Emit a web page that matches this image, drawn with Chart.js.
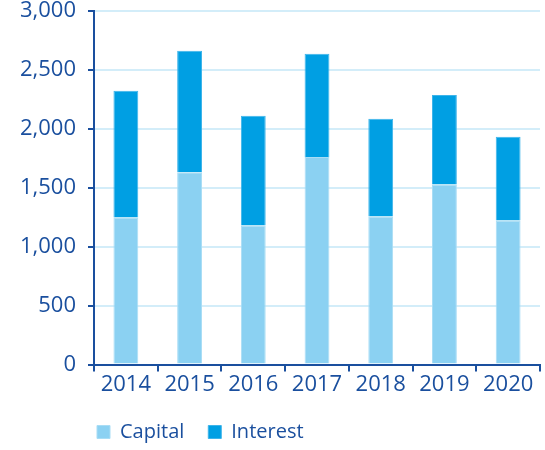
<!DOCTYPE html>
<html>
<head>
<meta charset="utf-8">
<script src="https://cdn.jsdelivr.net/npm/chart.js@4/dist/chart.umd.min.js"></script>
<style>
  html, body { margin: 0; padding: 0; background: #fff; }
  #wrap { width: 545px; height: 450px; position: relative; }
</style>
</head>
<body>
<div id="wrap"><canvas id="chart"></canvas></div>
<script>
// --- Data ---
const years = ['2014', '2015', '2016', '2017', '2018', '2019', '2020'];
const capital = [1247, 1631, 1180, 1761, 1256, 1527, 1222];
const interest = [1077, 1032, 932, 876, 830, 760, 712];
const yTicks = [0, 500, 1000, 1500, 2000, 2500, 3000];

const navy = '#1A4F9E';
const gridBlue = '#D3EDF9';

Chart.defaults.font.family = "'Open Sans', sans-serif";
Chart.defaults.color = navy;

// shift legend so it lines up under the plot like the original
const legendShift = {
    id: 'legendShift',
    afterLayout(chart) {
        chart.legend.left = 73;
    }
};

const ctx = document.getElementById('chart').getContext('2d');
new Chart(ctx, {
    type: 'bar',
    data: {
        labels: years,
        datasets: [
            {
                label: 'Capital',
                data: capital,
                backgroundColor: '#8BD1F2',
                borderColor: '#A9DDF5',
                borderWidth: 1,
                barPercentage: 0.39,
                categoryPercentage: 1
            },
            {
                label: 'Interest',
                data: interest,
                backgroundColor: '#009FE3',
                borderColor: '#3DB4EA',
                borderWidth: 1,
                barPercentage: 0.39,
                categoryPercentage: 1
            }
        ]
    },
    options: {
        responsive: true,
        maintainAspectRatio: false,
        animation: false,
        layout: { padding: { left: 8, right: 5, top: 0, bottom: -2 } },
        plugins: {
            tooltip: { enabled: false },
            legend: {
                position: 'bottom',
                align: 'start',
                labels: {
                    boxWidth: 13,
                    boxHeight: 13,
                    padding: 24,
                    color: navy,
                    font: { size: 20 }
                }
            }
        },
        scales: {
            x: {
                stacked: true,
                border: { color: navy, width: 2 },
                grid: { drawOnChartArea: false, tickColor: navy, tickLength: 7, lineWidth: 2 },
                ticks: { color: navy, font: { size: 22 }, padding: 0 }
            },
            y: {
                stacked: true,
                min: 0,
                max: 3000,
                afterBuildTicks: axis => { axis.ticks = yTicks.map(v => ({ value: v })); },
                afterFit: axis => { axis.paddingTop = 11; },
                border: { color: navy, width: 2 },
                grid: { color: gridBlue, lineWidth: 2, tickColor: navy, tickLength: 6 },
                ticks: {
                    color: navy,
                    font: { size: 22 },
                    padding: 12,
                    callback: v => v.toLocaleString('en-US')
                }
            }
        }
    },
    plugins: [legendShift]
});
</script>
</body>
</html>
